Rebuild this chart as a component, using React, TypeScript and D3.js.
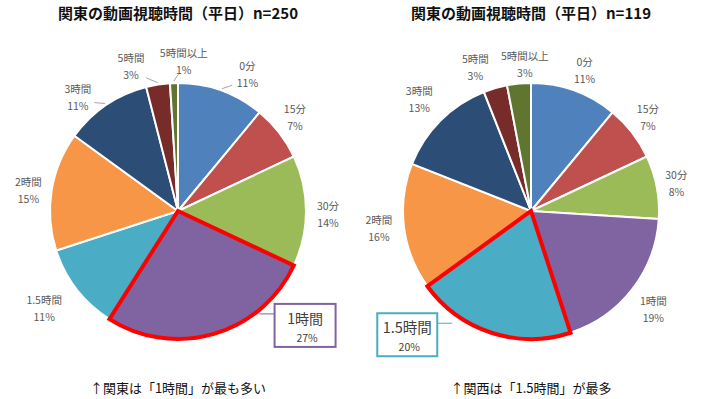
import React from 'react';
import * as d3 from 'd3';

const categories = ['0分', '15分', '30分', '1時間', '1.5時間', '2時間', '3時間', '5時間', '5時間以上'];
const kantoValues = [11, 7, 14, 27, 11, 15, 11, 3, 1];
const kansaiValues = [11, 7, 8, 19, 20, 16, 13, 3, 3];
const sliceColors = ['#4F81BD', '#C0504D', '#9BBB59', '#8064A2', '#4BACC6', '#F79646', '#2C4D75', '#772C2A', '#5F7530'];

const W = 708;
const H = 399;
const R = 128;
const FONT = '"Noto Sans CJK JP", "Noto Sans", sans-serif';

// label placement tweaks: [angle offset in degrees, distance from centre]
const charts = [
  {
    title: '関東の動画視聴時間（平日）n=250',
    caption: '↑関東は「1時間」が最も多い',
    values: kantoValues,
    cx: 178,
    cy: 211,
    highlight: 3,
    callout: { angle: 132, dist: 171, w: 61, h: 43, side: -1, big: 14 },
    nudge: [[7, 154], [-1, 150], [1, 150], [0, 150], [2, 165], [-1, 151], [-7, 152], [-9, 152], [4, 150]],
    leaders: [true, false, false, false, false, false, true, true, true],
  },
  {
    title: '関東の動画視聴時間（平日）n=119',
    caption: '↑関西は「1.5時間」が最多',
    values: kansaiValues,
    cx: 531,
    cy: 211,
    highlight: 4,
    callout: { angle: 225, dist: 175, w: 60, h: 43, side: 1, big: 14.5 },
    nudge: [[1, 151], [-1, 150], [0, 148], [1, 157], [0, 150], [1, 153], [0, 158], [-5, 154], [3, 147]],
    leaders: [false, false, false, false, false, false, false, false, false],
  },
];

const rad = (deg: number) => (deg * Math.PI) / 180;
const polar = (cx: number, cy: number, angDeg: number, dist: number) => [
  cx + Math.sin(rad(angDeg)) * dist,
  cy - Math.cos(rad(angDeg)) * dist,
];

function Pie({ c }: { c: typeof charts[number] }) {
  const pie = d3.pie<number>().sort(null).value(d => d);
  const arcs = pie(c.values);
  const arc = d3.arc<d3.PieArcDatum<number>>().innerRadius(0).outerRadius(R);
  const hl = arcs[c.highlight];
  const hlColor = sliceColors[c.highlight];
  const [bx, by] = polar(c.cx, c.cy, c.callout.angle, c.callout.dist);
  const boxX = bx - c.callout.w / 2;
  const boxY = by - c.callout.h / 2;
  const leadY = boxY + 10;
  const leadX0 = c.callout.side < 0 ? boxX : boxX + c.callout.w;
  const leadX1 = leadX0 + c.callout.side * 15;

  return (
    <g>
      <text x={c.cx} y={19} textAnchor="middle" fontFamily={FONT} fontSize={15} fontWeight="bold" fill="#111">
        {c.title}
      </text>
      <g transform={`translate(${c.cx},${c.cy})`}>
        {arcs.map((a, i) => (
          <path key={i} d={arc(a) || ''} fill={sliceColors[i]} stroke="#fff" strokeWidth={2} />
        ))}
        <path d={arc(hl) || ''} fill="none" stroke="#FF0000" strokeWidth={4} strokeLinejoin="miter" />
      </g>
      {arcs.map((a, i) => {
        if (i === c.highlight) return null;
        const midTrue = ((a.startAngle + a.endAngle) / 2) * 180 / Math.PI;
        const mid = midTrue + c.nudge[i][0];
        const [lx, ly] = polar(c.cx, c.cy, mid, c.nudge[i][1]);
        const [p0x, p0y] = polar(c.cx, c.cy, midTrue, R + 2);
        const [p1x, p1y] = polar(c.cx, c.cy, (mid + midTrue) / 2, R + 9);
        return (
          <g key={i}>
            {c.leaders[i] && (
              <polyline points={`${p0x},${p0y} ${p1x},${p1y}`} fill="none" stroke="#A6A6A6" strokeWidth={1} />
            )}
            <text x={lx} y={ly - 4} textAnchor="middle" fontFamily={FONT} fontSize={10.5} fill="#595959">
              {categories[i]}
            </text>
            <text x={lx} y={ly + 13} textAnchor="middle" fontFamily={FONT} fontSize={10.5} fill="#595959">
              {c.values[i]}%
            </text>
          </g>
        );
      })}
      <line x1={leadX0} y1={leadY} x2={leadX1} y2={leadY} stroke={hlColor} strokeWidth={1} />
      <rect x={boxX} y={boxY} width={c.callout.w} height={c.callout.h} fill="#fff" stroke={hlColor} strokeWidth={2} />
      <text x={bx} y={boxY + 20} textAnchor="middle" fontFamily={FONT} fontSize={c.callout.big} fill="#404040">
        {categories[c.highlight]}
      </text>
      <text x={bx + 2} y={boxY + 38} textAnchor="middle" fontFamily={FONT} fontSize={10.5} fill="#404040">
        {c.values[c.highlight]}%
      </text>
      <text x={c.cx} y={393} textAnchor="middle" fontFamily={FONT} fontSize={13} fill="#111">
        {c.caption}
      </text>
    </g>
  );
}

export default function App() {
  return (
    <svg width={W} height={H} style={{ position: 'absolute', left: 0, top: 0, background: '#fff' }}>
      <rect width={W} height={H} fill="#fff" />
      {charts.map((c, i) => (
        <Pie key={i} c={c} />
      ))}
    </svg>
  );
}
